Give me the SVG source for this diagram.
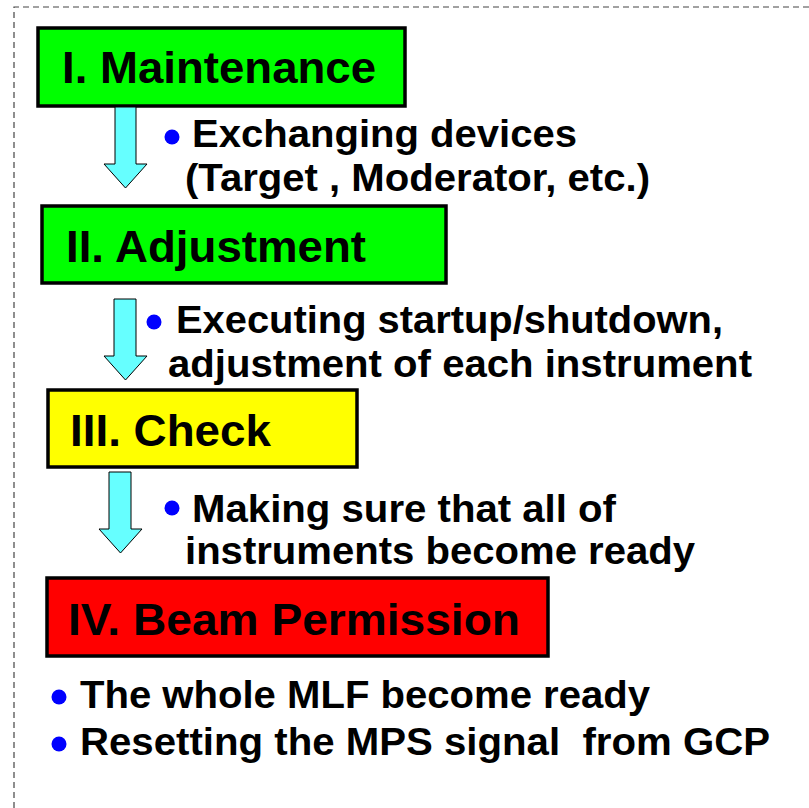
<svg xmlns="http://www.w3.org/2000/svg" width="809" height="808" viewBox="0 0 809 808">
<style>
.box{stroke:#000;stroke-width:3.5}
.title{font-family:"Liberation Sans",Arial,sans-serif;font-weight:bold;font-size:44px;fill:#000}
.txt{font-family:"Liberation Sans",Arial,sans-serif;font-weight:bold;font-size:38px;fill:#000;white-space:pre}
.arrow{fill:#66FFFF;stroke:#000;stroke-width:1}
.dot{fill:#0000FF}
</style>
<rect width="809" height="808" fill="#fff"/>
<path d="M14,808 V7 H809" fill="none" stroke="#444" stroke-width="1.2" stroke-dasharray="6,4"/>

<g id="node-maintenance">
<rect class="box" x="38" y="28" width="367" height="78" fill="#00FF00"/>
<text class="title" x="62" y="83" textLength="314" lengthAdjust="spacingAndGlyphs">I. Maintenance</text>
</g>
<g id="node-adjustment">
<rect class="box" x="42" y="206" width="404" height="77" fill="#00FF00"/>
<text class="title" x="66" y="262" textLength="300" lengthAdjust="spacingAndGlyphs">II. Adjustment</text>
</g>
<g id="node-check">
<rect class="box" x="48" y="390" width="309" height="77" fill="#FFFF00"/>
<text class="title" x="70" y="446" textLength="201" lengthAdjust="spacingAndGlyphs">III. Check</text>
</g>
<g id="node-permission">
<rect class="box" x="47" y="578" width="501" height="78" fill="#FF0000"/>
<text class="title" x="68" y="635" textLength="452" lengthAdjust="spacingAndGlyphs">IV. Beam Permission</text>
</g>

<g id="connectors">
<path class="arrow" d="M115,107 H136 V164 H147 L125.5,188 L104,164 H115 Z"/>
<path class="arrow" d="M114,299 H136 V356 H147 L125.5,380 L104,356 H114 Z"/>
<path class="arrow" d="M109,472 H131 V529 H142 L120.5,553 L99,529 H109 Z"/>
</g>

<g id="notes">
<circle class="dot" cx="172" cy="137" r="7.5"/>
<text class="txt" x="192" y="147" textLength="385" lengthAdjust="spacingAndGlyphs">Exchanging devices</text>
<text class="txt" x="185" y="191" textLength="465" lengthAdjust="spacingAndGlyphs">(Target , Moderator, etc.)</text>
<circle class="dot" cx="154" cy="322" r="7.5"/>
<text class="txt" x="176" y="333" textLength="547" lengthAdjust="spacingAndGlyphs">Executing startup/shutdown,</text>
<text class="txt" x="168" y="377" textLength="584" lengthAdjust="spacingAndGlyphs">adjustment of each instrument</text>
<circle class="dot" cx="172" cy="508" r="7.5"/>
<text class="txt" x="192" y="522" textLength="424" lengthAdjust="spacingAndGlyphs">Making sure that all of</text>
<text class="txt" x="185" y="564" textLength="510" lengthAdjust="spacingAndGlyphs">instruments become ready</text>
<circle class="dot" cx="59" cy="697" r="7.5"/>
<text class="txt" x="80" y="708" textLength="570" lengthAdjust="spacingAndGlyphs">The whole MLF become ready</text>
<circle class="dot" cx="59" cy="744" r="7.5"/>
<text class="txt" x="80" y="755" textLength="690" lengthAdjust="spacingAndGlyphs">Resetting the MPS signal  from GCP</text>
</g>
</svg>
